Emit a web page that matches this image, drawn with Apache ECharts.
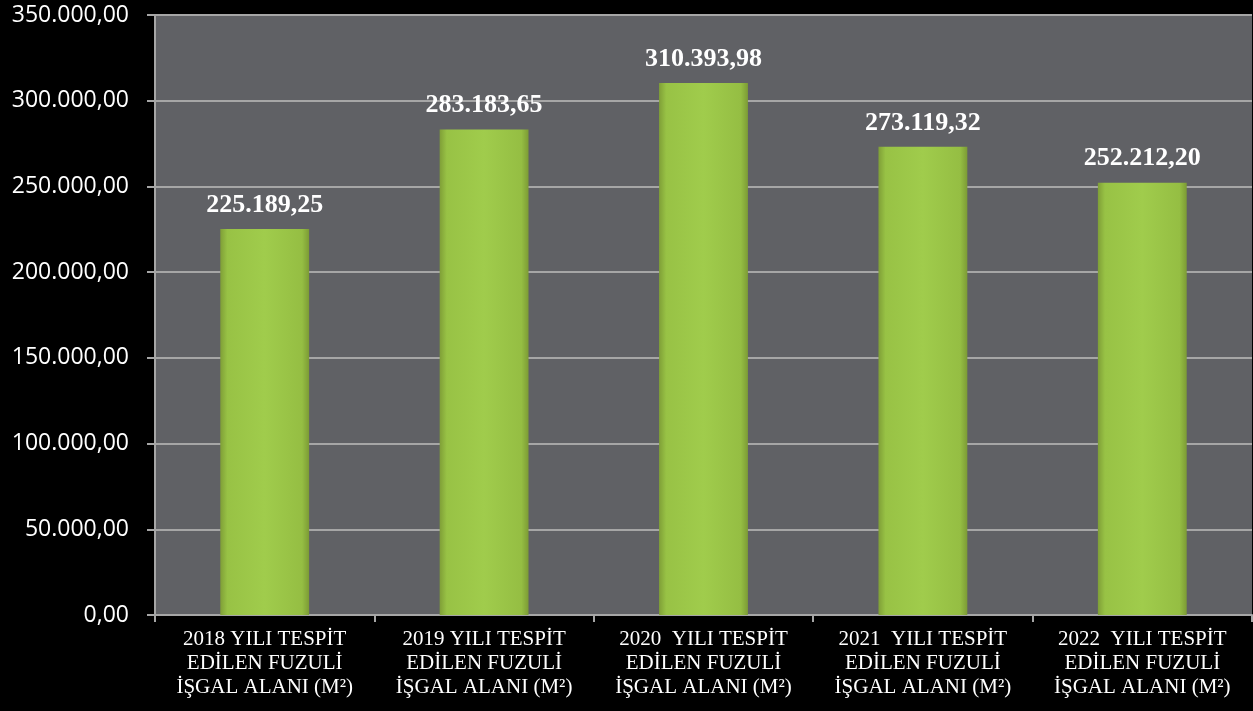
<!DOCTYPE html>
<html><head><meta charset="utf-8">
<script src="https://cdn.jsdelivr.net/npm/echarts@6/dist/echarts.min.js"></script>
<style>html,body{margin:0;padding:0;background:#000;}#c{width:1253px;height:711px;}</style>
</head><body><div id="c"></div>
<script>
const categories = [
  "2018 YILI TESPİT\nEDİLEN FUZULİ\nİŞGAL ALANI (M²)",
  "2019 YILI TESPİT\nEDİLEN FUZULİ\nİŞGAL ALANI (M²)",
  "2020  YILI TESPİT\nEDİLEN FUZULİ\nİŞGAL ALANI (M²)",
  "2021  YILI TESPİT\nEDİLEN FUZULİ\nİŞGAL ALANI (M²)",
  "2022  YILI TESPİT\nEDİLEN FUZULİ\nİŞGAL ALANI (M²)"
];
const values = [225189.25, 283183.65, 310393.98, 273119.32, 252212.20];
const yMin = 0, yMax = 350000, yStep = 50000;

function trFmt(v){
  const parts = Number(v).toFixed(2).split('.');
  const intp = parts[0].replace(/\B(?=(\d{3})+(?!\d))/g, '.');
  return intp + ',' + parts[1];
}
const chart = echarts.init(document.getElementById('c'));
chart.setOption({
  backgroundColor: '#000000',
  animation: false,
  grid: {left: 155, right: 1, top: 15, bottom: 96, show: true, backgroundColor: '#606165', borderWidth: 0},
  xAxis: {
    type: 'category', data: categories,
    axisLine: {lineStyle: {color: '#a6a6a6', width: 2}},
    axisTick: {show: true, length: 7, lineStyle: {color: '#a6a6a6', width: 2}},
    axisLabel: {color: '#ffffff', fontFamily: 'Liberation Serif', fontSize: 21, lineHeight: 24, margin: 12, interval: 0}
  },
  yAxis: {
    type: 'value', min: yMin, max: yMax, interval: yStep,
    axisLine: {show: true, lineStyle: {color: '#a6a6a6', width: 2}},
    axisTick: {show: true, length: 8, lineStyle: {color: '#a6a6a6', width: 2}},
    splitLine: {lineStyle: {color: '#a6a6a6', width: 2}},
    axisLabel: {color: '#ffffff', fontFamily: 'Open Sans', fontSize: 23, margin: 26, formatter: trFmt}
  },
  series: [{
    type: 'bar', data: values, barWidth: '40.5%',
    itemStyle: {
      color: new echarts.graphic.LinearGradient(0, 0, 1, 0, [
        {offset: 0, color: '#7f9f37'},
        {offset: 0.08, color: '#98c245'},
        {offset: 0.5, color: '#a0cc4c'},
        {offset: 0.92, color: '#95be43'},
        {offset: 1, color: '#7c9b35'}
      ])
    },
    label: {
      show: true, position: 'top', distance: 11,
      color: '#ffffff', fontFamily: 'Liberation Serif', fontWeight: 'bold', fontSize: 26,
      formatter: p => trFmt(p.value)
    }
  }]
});
</script></body></html>
